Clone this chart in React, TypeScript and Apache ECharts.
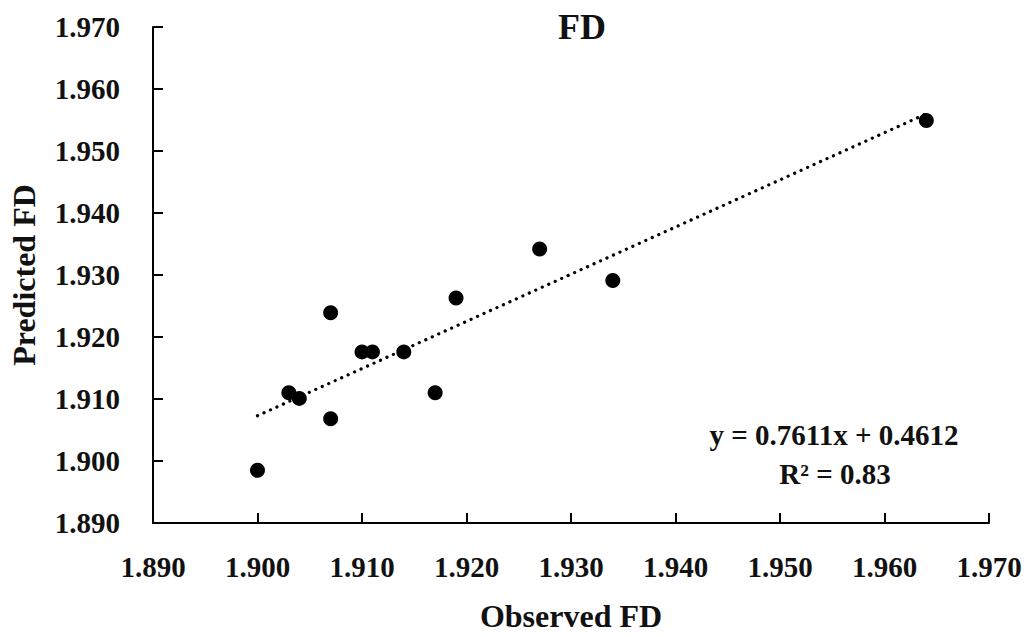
import React, { useEffect, useRef } from "react";
import * as echarts from "echarts";

const observed = [1.900, 1.903, 1.904, 1.907, 1.907, 1.910, 1.911, 1.914, 1.917, 1.919, 1.927, 1.934, 1.964];
const predicted = [1.8985, 1.911, 1.9101, 1.9239, 1.9068, 1.9176, 1.9176, 1.9176, 1.911, 1.9263, 1.9342, 1.9291, 1.9549];
const trendX = [1.900, 1.964];
const trendY = [1.9073, 1.9560];
const titleText = "FD";
const xName = "Observed FD";
const yName = "Predicted FD";
const equation = "y = 0.7611x + 0.4612";
const rSquared = "R² = 0.83";

const FONT = "'Liberation Serif', 'DejaVu Serif', serif";

export default function App() {
  const ref = useRef<HTMLDivElement>(null);
  useEffect(() => {
    if (!ref.current) return;
    const chart = echarts.init(ref.current, undefined, { renderer: "svg" });
    const axisCommon = {
      type: "value",
      min: 1.89,
      max: 1.97,
      interval: 0.01,
      splitLine: { show: false },
      axisLine: { show: true, lineStyle: { color: "#000", width: 2 } },
      axisTick: { show: true, inside: true, length: 10, lineStyle: { color: "#000", width: 2 } },
      axisLabel: {
        color: "#111",
        fontFamily: FONT,
        fontWeight: "bold",
        fontSize: 29,
        formatter: (v: number) => v.toFixed(3),
      },
      nameLocation: "middle",
      nameTextStyle: { color: "#111", fontFamily: FONT, fontWeight: "bold", fontSize: 32 },
    };
    chart.setOption({
      animation: false,
      backgroundColor: "#fff",
      title: {
        text: titleText,
        left: 553,
        top: 4,
        textStyle: { color: "#111", fontFamily: FONT, fontWeight: "bold", fontSize: 36 },
      },
      grid: { left: 152, right: 44, top: 27, bottom: 109 },
      xAxis: {
        ...axisCommon,
        name: xName,
        nameGap: 77,
        axisLabel: { ...axisCommon.axisLabel, margin: 29 },
      },
      yAxis: {
        ...axisCommon,
        name: yName,
        nameGap: 113,
        axisLabel: { ...axisCommon.axisLabel, margin: 33 },
      },
      series: [
        {
          type: "line",
          data: trendX.map((x, i) => [x, trendY[i]]),
          symbol: "none",
          lineStyle: { color: "#000", width: 3.2, type: [0.1, 7], cap: "round" },
          silent: true,
          z: 1,
        },
        {
          type: "scatter",
          data: observed.map((x, i) => [x, predicted[i]]),
          symbol: "circle",
          symbolSize: 15,
          itemStyle: { color: "#000", opacity: 1 },
          z: 2,
        },
      ],
      graphic: [
        {
          type: "text",
          x: 834,
          y: 435,
          style: {
            text: equation,
            fill: "#111",
            font: `bold 29px ${FONT}`,
            align: "center",
            verticalAlign: "middle",
          },
        },
        {
          type: "text",
          x: 835,
          y: 474,
          style: {
            text: rSquared,
            fill: "#111",
            font: `bold 29px ${FONT}`,
            align: "center",
            verticalAlign: "middle",
          },
        },
      ],
    });
    return () => chart.dispose();
  }, []);
  return (
    <div
      ref={ref}
      style={{ position: "fixed", left: 0, top: 0, width: 1033, height: 637, background: "#fff" }}
    />
  );
}
